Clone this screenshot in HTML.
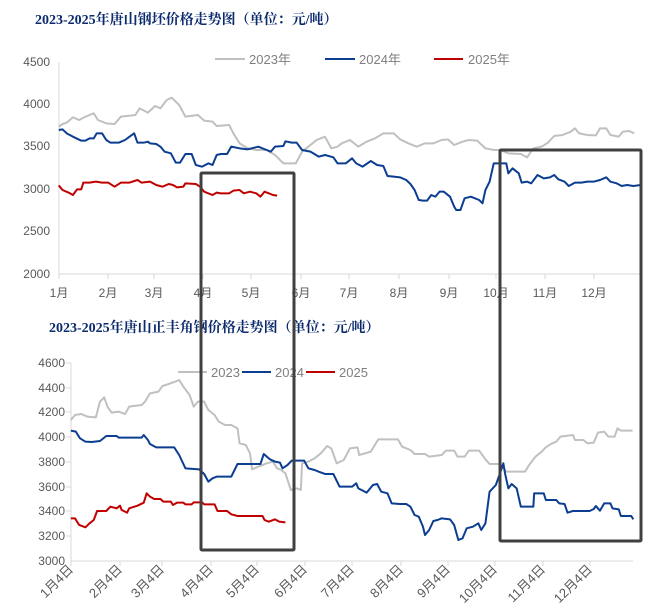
<!DOCTYPE html>
<html><head><meta charset="utf-8"><style>
html,body{margin:0;padding:0;background:#fff;}
svg{display:block;font-family:"Liberation Sans","Noto Sans CJK SC",sans-serif;}
.t{font-family:"Liberation Serif","Noto Serif CJK SC",serif;font-weight:bold;fill:#0b2a6e;font-size:14px;}
.yl{fill:#595959;font-size:12px;text-anchor:end;}
.xl{fill:#595959;font-size:12px;text-anchor:middle;}
.ln{fill:none;stroke-width:2;vector-effect:non-scaling-stroke;stroke-linejoin:round;}
</style></head><body>
<svg width="650" height="612" viewBox="0 0 650 612">
<text class="t" x="35" y="24">2023-2025年唐山钢坯价格走势图（单位：元/吨）</text>
<!-- chart 1 axes -->
<line x1="59" y1="62" x2="59" y2="274" stroke="#d9d9d9"/>
<line x1="59" y1="274" x2="641" y2="274" stroke="#d9d9d9"/>
<g class="yl">
<text x="50" y="66">4500</text><text x="50" y="108">4000</text><text x="50" y="150">3500</text>
<text x="50" y="193">3000</text><text x="50" y="235">2500</text><text x="50" y="278">2000</text></g>
<g stroke="#d9d9d9">
<line x1="59" y1="274" x2="59" y2="279"/><line x1="108" y1="274" x2="108" y2="279"/><line x1="154" y1="274" x2="154" y2="279"/><line x1="203" y1="274" x2="203" y2="279"/><line x1="251" y1="274" x2="251" y2="279"/><line x1="301" y1="274" x2="301" y2="279"/><line x1="349" y1="274" x2="349" y2="279"/><line x1="399" y1="274" x2="399" y2="279"/><line x1="449" y1="274" x2="449" y2="279"/><line x1="496" y1="274" x2="496" y2="279"/><line x1="545" y1="274" x2="545" y2="279"/><line x1="594" y1="274" x2="594" y2="279"/></g>
<g class="xl">
<text x="59" y="297">1月</text><text x="108" y="297">2月</text><text x="154" y="297">3月</text><text x="203" y="297">4月</text><text x="251" y="297">5月</text><text x="301" y="297">6月</text><text x="349" y="297">7月</text><text x="399" y="297">8月</text><text x="449" y="297">9月</text><text x="496" y="297">10月</text><text x="545" y="297">11月</text><text x="594" y="297">12月</text></g>
<g font-size="13" fill="#7f7f7f">
<line x1="215" y1="59" x2="245" y2="59" stroke="#c0c0c0" stroke-width="2"/><text x="249" y="64">2023年</text>
<line x1="325" y1="59" x2="355" y2="59" stroke="#0b3d91" stroke-width="2"/><text x="359" y="64">2024年</text>
<line x1="434" y1="59" x2="463" y2="59" stroke="#c00000" stroke-width="2"/><text x="468" y="64">2025年</text></g>
<g transform="scale(0.41667,0.33333)">
<polyline class="ln" stroke="#c0c0c0" points="141,380 150,372 160,368 175,352 190,360 205,350 225,340 235,360 255,370 275,372 290,350 325,345 335,325 355,338 372,318 385,325 400,300 412,293 430,315 445,350 475,345 490,362 510,365 520,378 550,375 560,400 575,430 595,445 615,450 640,450 660,465 680,490 710,490 725,455 740,440 760,420 780,410 795,445 810,440 820,430 840,420 860,440 880,425 900,415 920,400 945,400 960,418 980,430 1000,440 1020,430 1040,430 1060,420 1075,418 1090,435 1110,425 1125,420 1145,422 1165,445 1185,450 1200,450 1220,460 1250,462 1265,472 1280,445 1300,440 1315,428 1330,408 1350,405 1370,395 1380,385 1390,400 1410,405 1430,406 1440,385 1455,385 1465,405 1485,410 1495,395 1510,393 1522,400"/>
<polyline class="ln" stroke="#0b3d91" points="141,390 150,388 160,400 175,410 195,422 205,422 215,415 225,415 232,400 245,400 255,420 265,428 285,428 300,420 322,400 330,428 345,428 355,425 360,430 375,432 385,440 395,455 410,460 422,488 432,488 445,462 460,462 470,495 485,500 500,490 510,495 520,465 530,462 545,462 555,440 575,445 595,448 620,440 640,450 650,455 660,440 680,438 685,424 700,428 712,428 725,450 745,455 765,470 780,465 800,472 810,490 830,490 845,475 855,490 870,500 890,483 905,495 920,498 930,528 945,530 960,532 975,540 985,552 995,570 1005,600 1015,602 1025,602 1035,585 1045,590 1055,575 1065,575 1080,590 1090,620 1095,630 1105,630 1115,595 1130,590 1150,600 1158,610 1165,570 1175,545 1185,490 1215,490 1220,520 1230,505 1245,520 1252,548 1265,545 1275,550 1290,525 1305,535 1320,532 1330,525 1340,538 1355,545 1365,558 1380,548 1395,548 1410,545 1425,545 1440,540 1455,532 1465,545 1480,550 1492,558 1505,555 1520,558 1538,555"/>
<polyline class="ln" stroke="#c00000" points="141,556 150,570 165,578 175,585 185,568 195,568 200,548 215,548 230,545 245,548 260,548 275,560 290,548 310,548 330,540 340,548 360,545 375,555 390,560 405,552 415,555 425,562 440,560 445,550 470,552 480,560 490,575 510,585 520,578 530,580 550,580 560,572 575,570 585,580 600,575 615,580 625,590 635,575 645,580 655,585 665,587"/>
</g>

<!-- chart 2 -->
<text class="t" x="49" y="332">2023-2025年唐山正丰角钢价格走势图（单位：元/吨）</text>
<line x1="71" y1="363" x2="71" y2="561" stroke="#d9d9d9"/>
<line x1="71" y1="561" x2="633" y2="561" stroke="#d9d9d9"/>
<g class="yl" font-size="13">
<text x="65" y="367">4600</text><text x="65" y="392">4400</text><text x="65" y="416">4200</text><text x="65" y="441">4000</text><text x="65" y="466">3800</text><text x="65" y="491">3600</text><text x="65" y="515">3400</text><text x="65" y="540">3200</text><text x="65" y="565">3000</text></g>
<g stroke="#d9d9d9">
<line x1="66" y1="363" x2="71" y2="363"/><line x1="66" y1="388" x2="71" y2="388"/><line x1="66" y1="412" x2="71" y2="412"/><line x1="66" y1="437" x2="71" y2="437"/><line x1="66" y1="462" x2="71" y2="462"/><line x1="66" y1="487" x2="71" y2="487"/><line x1="66" y1="511" x2="71" y2="511"/><line x1="66" y1="536" x2="71" y2="536"/>
<line x1="71" y1="561" x2="71" y2="566"/><line x1="120" y1="561" x2="120" y2="566"/><line x1="162" y1="561" x2="162" y2="566"/><line x1="211" y1="561" x2="211" y2="566"/><line x1="257" y1="561" x2="257" y2="566"/><line x1="305" y1="561" x2="305" y2="566"/><line x1="352" y1="561" x2="352" y2="566"/><line x1="401" y1="561" x2="401" y2="566"/><line x1="448" y1="561" x2="448" y2="566"/><line x1="495" y1="561" x2="495" y2="566"/><line x1="543" y1="561" x2="543" y2="566"/><line x1="590" y1="561" x2="590" y2="566"/></g>
<g fill="#595959" font-size="13" text-anchor="end">
<text transform="translate(74,570) rotate(-45)">1月4日</text>
<text transform="translate(123,570) rotate(-45)">2月4日</text>
<text transform="translate(165,570) rotate(-45)">3月4日</text>
<text transform="translate(214,570) rotate(-45)">4月4日</text>
<text transform="translate(260,570) rotate(-45)">5月4日</text>
<text transform="translate(308,570) rotate(-45)">6月4日</text>
<text transform="translate(355,570) rotate(-45)">7月4日</text>
<text transform="translate(404,570) rotate(-45)">8月4日</text>
<text transform="translate(451,570) rotate(-45)">9月4日</text>
<text transform="translate(498,570) rotate(-45)">10月4日</text>
<text transform="translate(546,570) rotate(-45)">11月4日</text>
<text transform="translate(593,570) rotate(-45)">12月4日</text></g>
<g font-size="13" fill="#7f7f7f">
<line x1="178" y1="372" x2="207" y2="372" stroke="#c0c0c0" stroke-width="2"/><text x="211" y="377">2023</text>
<line x1="242" y1="372" x2="271" y2="372" stroke="#0b3d91" stroke-width="2"/><text x="275" y="377">2024</text>
<line x1="306" y1="372" x2="335" y2="372" stroke="#c00000" stroke-width="2"/><text x="339" y="377">2025</text></g>
<g transform="translate(0,310) scale(0.41667,0.33333)">
<polyline class="ln" stroke="#c0c0c0" points="170,330 180,315 195,312 210,320 230,322 240,275 250,262 258,290 268,308 285,305 300,312 310,290 340,285 348,275 360,250 380,245 390,228 405,222 420,215 430,210 440,230 455,255 465,290 475,275 490,275 500,300 515,315 525,335 540,345 555,345 570,355 575,400 590,405 600,430 605,478 620,470 640,460 655,455 665,475 675,480 685,490 698,540 712,535 722,540 725,460 740,455 755,445 770,430 785,408 795,415 808,460 825,450 840,415 858,412 862,435 890,425 908,388 955,388 965,410 985,420 995,432 1020,432 1030,440 1060,435 1070,422 1090,422 1098,440 1115,440 1125,422 1150,422 1165,448 1175,462 1200,462 1215,485 1260,485 1270,465 1285,440 1300,425 1310,412 1325,400 1335,395 1345,380 1375,375 1380,390 1400,390 1410,400 1425,398 1435,368 1450,365 1460,380 1475,380 1482,355 1490,362 1518,362"/>
<polyline class="ln" stroke="#0b3d91" points="170,362 182,365 192,385 205,395 220,396 240,393 255,378 280,378 285,383 340,383 345,375 355,390 360,402 375,412 418,412 430,435 445,475 478,478 490,492 500,515 510,505 520,500 555,500 570,462 625,462 633,432 648,448 660,455 672,458 678,475 690,465 700,452 730,452 740,475 755,480 765,485 780,492 800,492 815,530 845,530 855,520 860,535 880,548 895,525 905,522 915,545 930,550 940,580 960,582 975,582 985,590 995,615 1005,620 1015,650 1020,675 1030,660 1040,633 1050,630 1060,625 1080,628 1090,645 1100,690 1110,685 1120,655 1135,650 1148,640 1155,660 1165,640 1175,545 1190,525 1200,490 1208,460 1212,490 1220,535 1228,522 1240,535 1250,590 1280,590 1282,550 1305,550 1310,570 1335,570 1342,580 1355,582 1362,608 1375,603 1415,603 1425,597 1430,588 1440,602 1450,580 1465,580 1470,595 1485,598 1490,618 1515,618 1520,628"/>
<polyline class="ln" stroke="#c00000" points="170,625 180,625 190,645 205,652 215,640 225,630 233,603 255,603 265,590 280,595 288,587 292,600 305,608 310,595 330,587 345,578 352,550 360,560 370,567 385,567 392,575 410,575 415,585 425,578 440,578 445,583 460,583 465,577 485,577 490,583 515,583 522,603 545,603 555,613 570,618 630,618 635,630 645,635 660,628 670,635 685,637"/>
</g>
<!-- highlight boxes -->
<rect x="201" y="173" width="93" height="377" fill="none" stroke="#404040" stroke-width="3" rx="1"/>
<rect x="500" y="150" width="141" height="391" fill="none" stroke="#404040" stroke-width="3" rx="1"/>
</svg>
</body></html>
